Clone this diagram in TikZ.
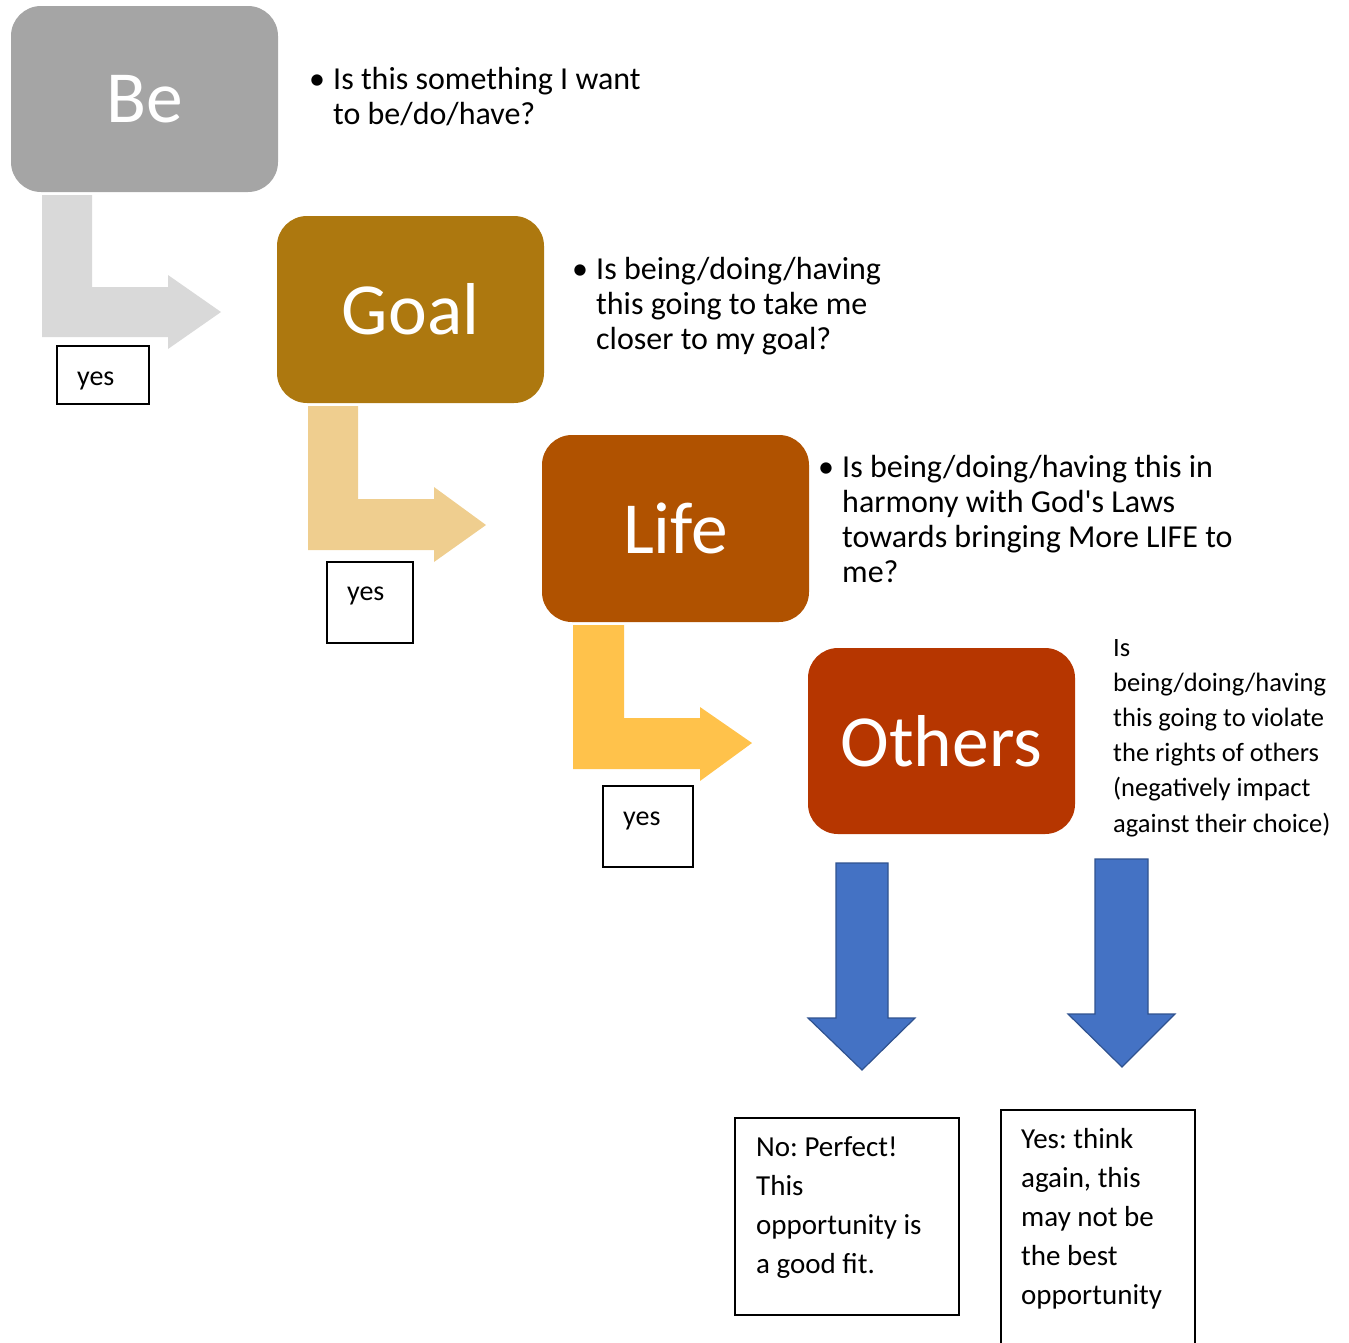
\documentclass[tikz,border=0pt]{standalone}
\usepackage{fontspec}
\setmainfont{Carlito}
\frenchspacing
\definecolor{beC}{HTML}{A5A5A5}
\definecolor{goalC}{HTML}{AD780F}
\definecolor{lifeC}{HTML}{B05200}
\definecolor{othC}{HTML}{B63600}
\definecolor{greyA}{HTML}{D9D9D9}
\definecolor{tanA}{HTML}{EFCE8F}
\definecolor{orA}{HTML}{FFC24B}
\definecolor{blueA}{HTML}{4472C4}
\definecolor{blueL}{HTML}{2F528F}
\newcommand{\mylines}[1]{\begin{tabular}[t]{@{}l@{}}#1\end{tabular}}
\begin{document}
\begin{tikzpicture}[x=1pt,y=-1pt,
  bigbox/.style={rounded corners=30pt},
  bigtxt/.style={text=white,font=\fontsize{73.5}{80}\selectfont},
  q/.style={anchor=base west,inner sep=0pt},
  qfont/.style={font=\fontsize{32}{35}\selectfont},
  yesbox/.style={draw=black,line width=1.6pt,fill=white},
  downarrow/.style={fill=blueA,draw=blueL,line width=1.2pt}]
\useasboundingbox (0,0) rectangle (1349,1342);
% big boxes
\fill[beC,bigbox] (11,6) rectangle (278,192);
\node[bigtxt] (be) at (144.5,99) {Be};
\fill[goalC,bigbox] (277,216) rectangle (544,403);
\node[bigtxt] (goal) at (410.5,309.5) {Goal};
\fill[lifeC,bigbox] (542,435) rectangle (809,622);
\node[bigtxt] (life) at (675.5,528.5) {Life};
\fill[othC,bigbox] (808,648) rectangle (1075,834);
\node[bigtxt] (others) at (941.5,741) {Others};
% bent arrows
\fill[greyA] (42,195) -- (92,195) -- (92,287) -- (168,287) -- (168,275) -- (221,312) -- (168,349) -- (168,337) -- (42,337) -- cycle;
\fill[tanA] (308,406) -- (358,406) -- (358,499) -- (434,499) -- (434,487) -- (486,525) -- (434,562) -- (434,550) -- (308,550) -- cycle;
\fill[orA] (573,625) -- (624,625) -- (624,718) -- (700,718) -- (700,707) -- (752,743) -- (700,781) -- (700,769) -- (573,769) -- cycle;
% yes boxes
\draw[yesbox] (57,346) rectangle (149,404);
\node[q,font=\fontsize{28}{34}\selectfont] (y1) at (77,385) {yes};
\draw[yesbox] (327,562) rectangle (413,643);
\node[q,font=\fontsize{28}{34}\selectfont] (y2) at (347,600) {yes};
\draw[yesbox] (603,786) rectangle (693,867);
\node[q,font=\fontsize{28}{34}\selectfont] (y3) at (623,825) {yes};
% questions
\node[q,qfont] (qb) at (309,89) {\textbullet};
\node[q,qfont] (qbt) at (333,89) {\mylines{Is this something I want\\to be/do/have?}};
\node[q,qfont] (qg) at (572,279) {\textbullet};
\node[q,qfont] (qgt) at (596,279) {\mylines{Is being/doing/having\\this going to take me\\closer to my goal?}};
\node[q,qfont] (ql) at (818,477) {\textbullet};
\node[q,qfont] (qlt) at (842,477) {\mylines{Is being/doing/having this in\\harmony with God\textquotesingle s Laws\\towards bringing More LIFE to\\me?}};
\node[q,font=\fontsize{26.5}{35.2}\selectfont] (qo) at (1113,656) {\mylines{Is\\being/doing/having\\this going to violate\\the rights of others\\(negatively impact\\against their choice)}};
% down arrows
\draw[downarrow] (836,863) -- (888,863) -- (888,1018) -- (915,1018) -- (862,1070) -- (808,1018) -- (836,1018) -- cycle;
\draw[downarrow] (1095,859) -- (1148,859) -- (1148,1014) -- (1175,1014) -- (1122,1067) -- (1068,1014) -- (1095,1014) -- cycle;
% outcome boxes
\draw[yesbox] (735,1118) rectangle (959,1315);
\node[q,font=\fontsize{29}{39}\selectfont] (no) at (756,1156) {\mylines{No: Perfect!\\This\\opportunity is\\a good fit.}};
\draw[yesbox] (1001,1110) rectangle (1195,1350);
\node[q,font=\fontsize{29}{39}\selectfont] (yes) at (1021,1148) {\mylines{Yes: think\\again, this\\may not be\\the best\\opportunity}};
\end{tikzpicture}
\end{document}
